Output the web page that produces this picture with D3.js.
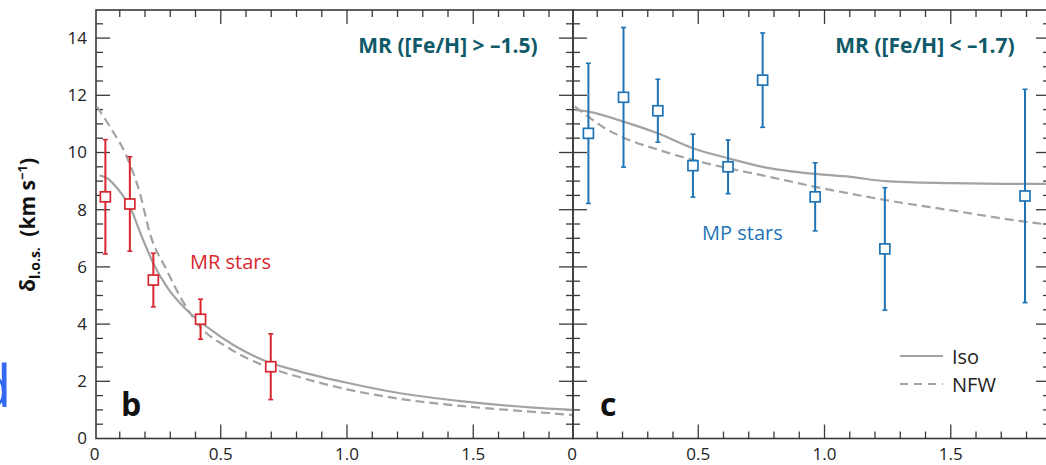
<!DOCTYPE html>
<html>
<head>
<meta charset="utf-8">
<script src="https://cdn.jsdelivr.net/npm/d3@7"></script>
<style>
  html, body { margin: 0; padding: 0; background: #fff; }
  svg { display: block; font-family: "Open Sans", "Noto Sans", sans-serif; }
</style>
</head>
<body>
<svg id="chart" width="1046" height="465"></svg>
<script>
// ---------- data ----------
// panel b: metal-rich (MR) stars
const mrR      = [0.043, 0.14, 0.233, 0.42, 0.698];
const mrSigma  = [8.45, 8.2, 5.54, 4.17, 2.51];
const mrErr    = [2.0, 1.65, 0.94, 0.7, 1.15];

// panel c: metal-poor (MP) stars
const mpR      = [0.065, 0.204, 0.34, 0.479, 0.618, 0.755, 0.963, 1.239, 1.794];
const mpSigma  = [10.67, 11.93, 11.46, 9.54, 9.5, 12.53, 8.45, 6.63, 8.48];
const mpErr    = [2.45, 2.44, 1.1, 1.1, 0.94, 1.65, 1.19, 2.14, 3.73];

// model curves
const isoMR_R  = [0.02, 0.05, 0.09, 0.14, 0.19, 0.233, 0.286, 0.365, 0.444, 0.55, 0.682, 0.814, 1.0, 1.2, 1.46, 1.725, 1.895];
const isoMR_S  = [9.2, 9.1, 8.75, 8.1, 7.0, 6.12, 5.31, 4.49, 3.91, 3.27, 2.69, 2.34, 1.95, 1.6, 1.3, 1.09, 1.0];
const nfwMR_R  = [0.01, 0.061, 0.128, 0.18, 0.22, 0.286, 0.339, 0.418, 0.523, 0.682, 0.814, 1.0, 1.2, 1.46, 1.725, 1.895];
const nfwMR_S  = [11.6, 10.9, 9.85, 8.57, 7.15, 5.89, 4.96, 3.91, 3.21, 2.51, 2.14, 1.72, 1.4, 1.13, 0.94, 0.82];

const isoMP_R  = [0.012, 0.065, 0.204, 0.34, 0.479, 0.618, 0.755, 0.963, 1.103, 1.239, 1.5, 1.794, 1.895];
const isoMP_S  = [11.49, 11.43, 11.08, 10.67, 10.15, 9.8, 9.5, 9.25, 9.15, 9.0, 8.93, 8.9, 8.9];
const nfwMP_R  = [0.012, 0.065, 0.13, 0.204, 0.34, 0.479, 0.618, 0.755, 0.963, 1.103, 1.239, 1.5, 1.794, 1.895];
const nfwMP_S  = [11.6, 11.25, 10.85, 10.52, 10.1, 9.74, 9.45, 9.2, 8.8, 8.56, 8.34, 7.98, 7.58, 7.47];

// ticks
const xMajor      = [0, 0.5, 1.0, 1.5];
const xTickLabels = ["0", "0.5", "1.0", "1.5"];
const xMinor      = [0.1, 0.2, 0.3, 0.4, 0.6, 0.7, 0.8, 0.9, 1.1, 1.2, 1.3, 1.4, 1.6, 1.7, 1.8];
const yMajor      = [0, 2, 4, 6, 8, 10, 12, 14];
const yTickLabels = ["0", "2", "4", "6", "8", "10", "12", "14"];
const yMinor      = [0.5, 1, 1.5, 2.5, 3, 3.5, 4.5, 5, 5.5, 6.5, 7, 7.5, 8.5, 9, 9.5, 10.5, 11, 11.5, 12.5, 13, 13.5, 14.5];

const panelTitles = ["MR ([Fe/H] > –1.5)", "MR ([Fe/H] < –1.7)"];
const seriesNames = ["MR stars", "MP stars"];
const panelLetters = ["b", "c"];
const legendNames = ["Iso", "NFW"];

// ---------- layout ----------
const svg = d3.select("#chart");
const yTop = 10, yBot = 438.5;
const frameL = [96, 573], frameR = [573, 1050];
const y  = d3.scaleLinear().domain([0, 15]).range([yBot, 9.5]);
const xL = d3.scaleLinear().domain([0, 1.895]).range([94.5, 573]);
const xR = d3.scaleLinear().domain([0, 1.895]).range([572, 1050.5]);

const axisCol = "#3a3a3a";
const curveCol = "#a3a3a3";
const red = "#d9262e", blue = "#1f74b5", teal = "#0f5a68";

// blue fragment of neighbouring panel label
svg.append("text").attr("x", -24).attr("y", 407)
  .attr("font-size", 58).attr("fill", "#3369f2").text("d");

function drawPanel(x, frame, opts) {
  const g = svg.append("g");
  const tickG = g.append("g").attr("stroke", axisCol).attr("stroke-width", 1.3);
  const xMaj = xMajor.filter(v => x(v) > frame[0] + 1 && x(v) < frame[1] - 1);
  const xMin = xMinor.filter(v => x(v) > frame[0] + 1 && x(v) < frame[1] - 1);
  tickG.append("g").selectAll("line").data(xMaj).join("line")
    .attr("x1", d => x(d)).attr("x2", d => x(d)).attr("y1", yBot).attr("y2", yBot - 14);
  tickG.append("g").selectAll("line").data(xMin).join("line")
    .attr("x1", d => x(d)).attr("x2", d => x(d)).attr("y1", yBot).attr("y2", yBot - 7);
  tickG.append("g").selectAll("line").data(xMaj).join("line")
    .attr("x1", d => x(d)).attr("x2", d => x(d)).attr("y1", yTop).attr("y2", yTop + 14);
  tickG.append("g").selectAll("line").data(xMin).join("line")
    .attr("x1", d => x(d)).attr("x2", d => x(d)).attr("y1", yTop).attr("y2", yTop + 7);
  [[frame[0], 1], [frame[1], -1]].forEach(([xx, dir]) => {
    tickG.append("g").selectAll("line").data(yMajor.filter(v => v > 0)).join("line")
      .attr("x1", xx).attr("x2", xx + dir * 14).attr("y1", d => y(d)).attr("y2", d => y(d));
    tickG.append("g").selectAll("line").data(yMinor).join("line")
      .attr("x1", xx).attr("x2", xx + dir * 7).attr("y1", d => y(d)).attr("y2", d => y(d));
  });
  g.append("rect").attr("x", frame[0]).attr("y", yTop)
    .attr("width", frame[1] - frame[0]).attr("height", yBot - yTop)
    .attr("fill", "none").attr("stroke", axisCol).attr("stroke-width", 1.6);

  g.append("g").selectAll("text").data(xMajor).join("text")
    .attr("x", d => x(d)).attr("y", 460).attr("text-anchor", "middle")
    .attr("font-size", 17).attr("fill", "#222")
    .text((d, i) => xTickLabels[i]);

  const line = d3.line().x(d => x(d[0])).y(d => y(d[1])).curve(d3.curveMonotoneX);
  g.append("path").datum(d3.zip(opts.isoR, opts.isoS)).attr("d", line)
    .attr("fill", "none").attr("stroke", curveCol).attr("stroke-width", 2.2);
  g.append("path").datum(d3.zip(opts.nfwR, opts.nfwS)).attr("d", line)
    .attr("fill", "none").attr("stroke", curveCol).attr("stroke-width", 2.2)
    .attr("stroke-dasharray", "9,5");

  const pts = d3.zip(opts.r, opts.s, opts.e);
  const pg = g.append("g").attr("stroke", opts.color).attr("fill", "none");
  pg.append("g").selectAll("line").data(pts).join("line")
    .attr("x1", d => x(d[0])).attr("x2", d => x(d[0]))
    .attr("y1", d => y(d[1] - d[2])).attr("y2", d => y(d[1] + d[2]))
    .attr("stroke-width", 2);
  pg.append("g").selectAll("line").data(pts).join("line")
    .attr("x1", d => x(d[0]) - 2.5).attr("x2", d => x(d[0]) + 2.5)
    .attr("y1", d => y(d[1] + d[2])).attr("y2", d => y(d[1] + d[2])).attr("stroke-width", 1.6);
  pg.append("g").selectAll("line").data(pts).join("line")
    .attr("x1", d => x(d[0]) - 2.5).attr("x2", d => x(d[0]) + 2.5)
    .attr("y1", d => y(d[1] - d[2])).attr("y2", d => y(d[1] - d[2])).attr("stroke-width", 1.6);
  pg.append("g").selectAll("rect").data(pts).join("rect")
    .attr("x", d => x(d[0]) - 5).attr("y", d => y(d[1]) - 5)
    .attr("width", 10).attr("height", 10)
    .attr("fill", "#fff").attr("stroke-width", 1.7);

  g.append("text").attr("x", opts.titleX).attr("y", 53).attr("text-anchor", "middle")
    .attr("font-size", 21).attr("font-weight", 700).attr("fill", teal).text(opts.title);
  g.append("text").attr("x", opts.labX).attr("y", opts.labY)
    .attr("font-size", 20).attr("fill", opts.color).text(opts.name);
  g.append("text").attr("x", opts.letX).attr("y", 416)
    .attr("font-size", 32).attr("font-weight", 700).attr("fill", "#111").text(opts.letter);
}

drawPanel(xL, frameL, {
  isoR: isoMR_R, isoS: isoMR_S, nfwR: nfwMR_R, nfwS: nfwMR_S,
  r: mrR, s: mrSigma, e: mrErr, color: red,
  title: panelTitles[0], titleX: 448, name: seriesNames[0], labX: 190, labY: 269,
  letter: panelLetters[0], letX: 121
});
drawPanel(xR, frameR, {
  isoR: isoMP_R, isoS: isoMP_S, nfwR: nfwMP_R, nfwS: nfwMP_S,
  r: mpR, s: mpSigma, e: mpErr, color: blue,
  title: panelTitles[1], titleX: 925, name: seriesNames[1], labX: 702, labY: 240,
  letter: panelLetters[1], letX: 600
});

svg.append("g").selectAll("text").data(yMajor).join("text")
  .attr("x", 87).attr("y", d => y(d)).attr("dy", "0.35em").attr("text-anchor", "end")
  .attr("font-size", 17).attr("fill", "#222")
  .text((d, i) => yTickLabels[i]);

const yl = svg.append("text").attr("transform", "translate(35,225) rotate(-90)")
  .attr("text-anchor", "middle").attr("font-size", 21).attr("font-weight", 700).attr("fill", "#111");
yl.append("tspan").text("δ");
yl.append("tspan").attr("font-size", 14).attr("dy", 5).text("l.o.s.");
yl.append("tspan").attr("dy", -5).text("\u2002(km s");
yl.append("tspan").attr("font-size", 13).attr("dy", -8).text("−1");
yl.append("tspan").attr("dy", 8).text(")");

const lg = svg.append("g");
[0, 1].forEach(i => {
  const ly = 356 + i * 28;
  lg.append("line").attr("x1", 900).attr("x2", 943).attr("y1", ly).attr("y2", ly)
    .attr("stroke", curveCol).attr("stroke-width", 2.2)
    .attr("stroke-dasharray", i === 1 ? "8,6" : null);
  lg.append("text").attr("x", 952).attr("y", ly + 7.5)
    .attr("font-size", 20).attr("fill", "#222").text(legendNames[i]);
});
</script>
</body>
</html>
